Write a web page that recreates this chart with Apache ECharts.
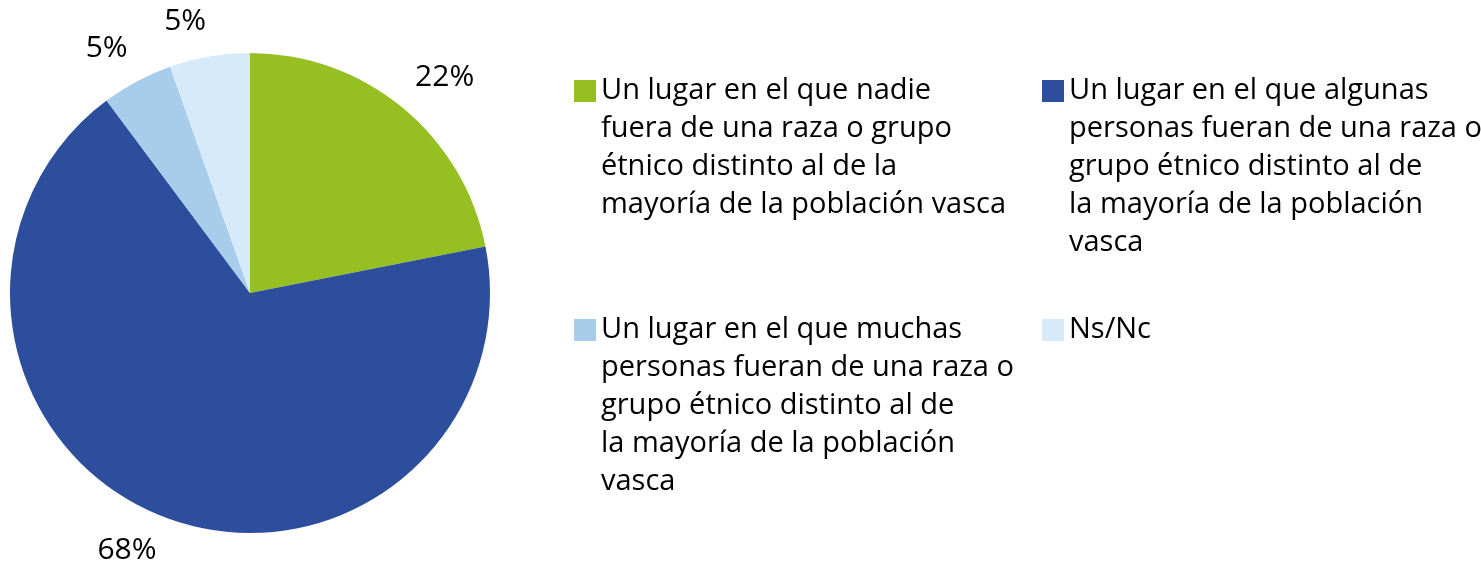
<!DOCTYPE html>
<html>
<head>
<meta charset="utf-8">
<script src="https://cdn.jsdelivr.net/npm/echarts@6/dist/echarts.min.js"></script>
<style>html,body{margin:0;padding:0;background:#fff}#c{width:1481px;height:566px}</style>
</head>
<body>
<div id="c"></div>
<script>
const categories = [
  "Un lugar en el que nadie\nfuera de una raza o grupo\nétnico distinto al de la\nmayoría de la población vasca",
  "Un lugar en el que algunas\npersonas fueran de una raza o\ngrupo étnico distinto al de\nla mayoría de la población\nvasca",
  "Un lugar en el que muchas\npersonas fueran de una raza o\ngrupo étnico distinto al de\nla mayoría de la población\nvasca",
  "Ns/Nc"
];
const values = [21.9, 67.9, 4.8, 5.4];
const colors = ["#96BF22", "#2D4D9D", "#A8CDEB", "#D6EAF9"];

const FONT = "Open Sans";
const LH = 38;
const SQ = 22;
const PIE_CENTER = [250, 293];
const PIE_R = 240;
const legendLeft = [574, 1042, 574, 1042];
const legendTop = [72, 72, 311, 311];

const chart = echarts.init(document.getElementById('c'), null, {renderer: 'canvas'});
const legends = categories.map((name, i) => {
  const n = name.split('\n').length;
  const H = n * LH;
  const off = (LH - SQ) / 2;
  // square at the top of a tall (invisible) icon box, so it lines up with the first text line
  const icon = 'path://M0,' + off + 'h' + SQ + 'v' + SQ + 'h-' + SQ + 'z' +
    'M0,0L0.01,0M0,' + H + 'L0.01,' + H;
  return {
    data: [{name: name, icon: icon}],
    left: legendLeft[i],
    top: legendTop[i],
    padding: 0,
    orient: 'vertical',
    itemWidth: SQ,
    itemHeight: H,
    selectedMode: false,
    textStyle: {
      fontFamily: FONT, fontSize: 29, color: '#000', lineHeight: LH
    }
  };
});

chart.setOption({
  animation: false,
  color: colors,
  legend: legends,
  series: [{
    type: 'pie',
    center: PIE_CENTER,
    radius: PIE_R,
    startAngle: 90,
    clockwise: true,
    data: categories.map((c, i) => ({name: c, value: values[i]})),
    itemStyle: {borderWidth: 0},
    label: {
      show: true,
      position: 'outside',
      formatter: p => Math.round(p.value) + '%',
      fontFamily: FONT,
      fontSize: 30,
      color: '#000'
    },
    labelLine: {show: false, length: 20, length2: 0},
    labelLayout: function (params) {
      const pts = params.labelLinePoints;
      if (!pts) return {};
      const ex = pts[0][0], ey = pts[0][1];
      const dx = ex - PIE_CENTER[0], dy = ey - PIE_CENTER[1];
      const len = Math.sqrt(dx * dx + dy * dy) || 1;
      const ux = dx / len, uy = dy / len;
      const gap = 20;
      const w = params.labelRect.width, h = params.labelRect.height;
      return {
        x: ex + ux * gap + Math.sign(ux) * w / 2,
        y: ey + uy * gap + Math.sign(uy) * h / 2,
        align: 'center',
        verticalAlign: 'middle'
      };
    },
    emphasis: {disabled: true}
  }]
});
</script>
</body>
</html>
